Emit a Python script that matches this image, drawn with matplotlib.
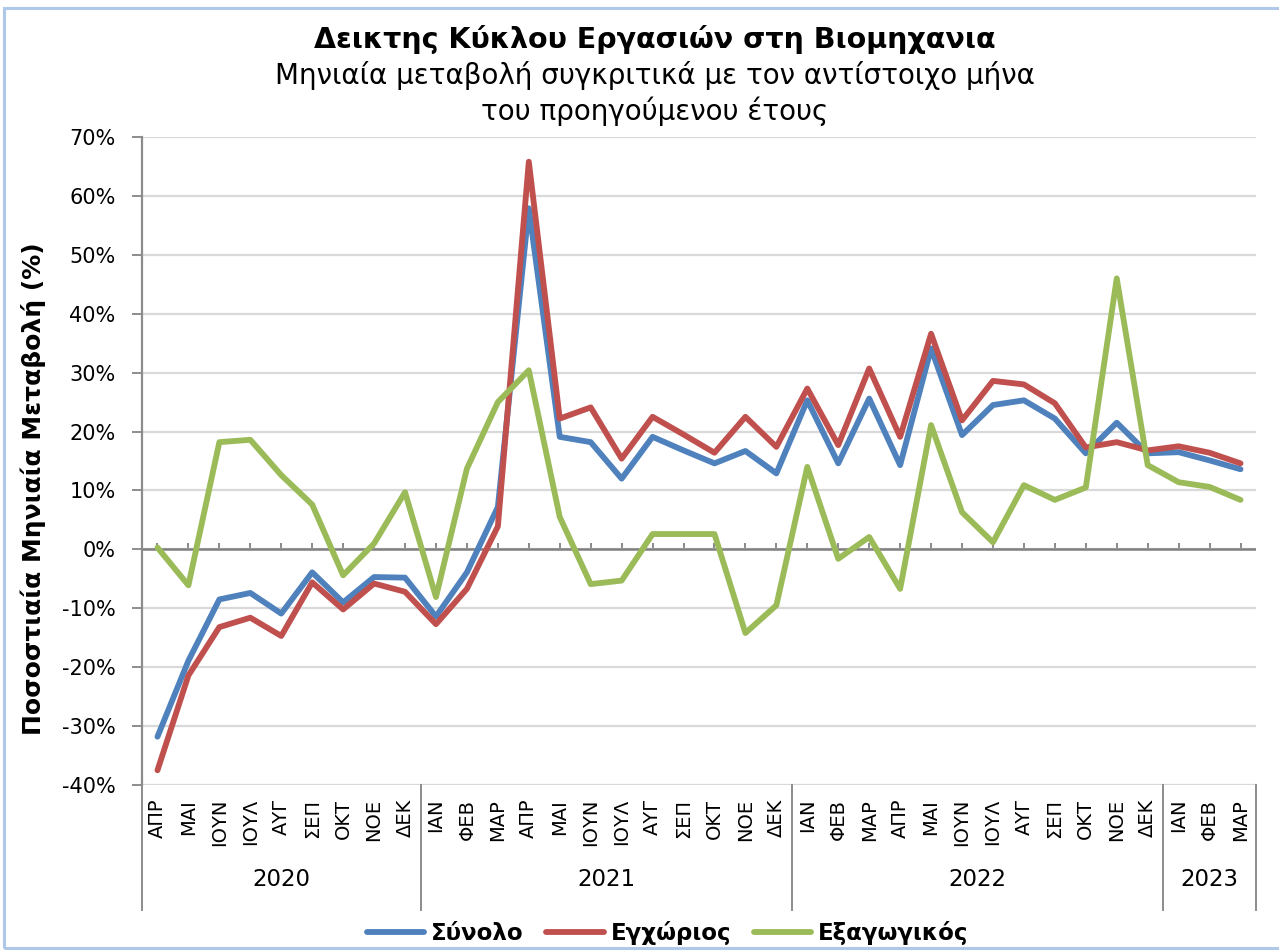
import matplotlib
matplotlib.use("Agg")
import matplotlib.pyplot as plt
import matplotlib.transforms as mtransforms
from matplotlib.patches import Rectangle
import numpy as np

plt.rcParams['font.family'] = ['DejaVu Sans']

months = ["ΑΠΡ", "ΜΑΙ", "ΙΟΥΝ", "ΙΟΥΛ", "ΑΥΓ", "ΣΕΠ", "ΟΚΤ", "ΝΟΕ", "ΔΕΚ",
          "ΙΑΝ", "ΦΕΒ", "ΜΑΡ", "ΑΠΡ", "ΜΑΙ", "ΙΟΥΝ", "ΙΟΥΛ", "ΑΥΓ", "ΣΕΠ", "ΟΚΤ", "ΝΟΕ", "ΔΕΚ",
          "ΙΑΝ", "ΦΕΒ", "ΜΑΡ", "ΑΠΡ", "ΜΑΙ", "ΙΟΥΝ", "ΙΟΥΛ", "ΑΥΓ", "ΣΕΠ", "ΟΚΤ", "ΝΟΕ", "ΔΕΚ",
          "ΙΑΝ", "ΦΕΒ", "ΜΑΡ"]
years = ["2020", "2021", "2022", "2023"]
months_per_year = [9, 12, 12, 3]

synolo = [-31.8, -18.9, -8.5, -7.4, -10.9, -3.9, -9.0, -4.7, -4.8,
          -11.4, -3.9, 7.2, 57.9, 19.1, 18.2, 12.0, 19.1, 16.8, 14.6, 16.7, 12.9,
          25.3, 14.6, 25.6, 14.3, 34.1, 19.4, 24.5, 25.3, 22.2, 16.3, 21.5, 16.3,
          16.5, 15.1, 13.6]
egxorios = [-37.5, -21.4, -13.2, -11.6, -14.7, -5.6, -10.2, -5.8, -7.2,
            -12.7, -6.7, 3.9, 65.8, 22.2, 24.1, 15.4, 22.5, 19.5, 16.4, 22.5, 17.4,
            27.3, 17.7, 30.7, 19.1, 36.6, 21.9, 28.6, 28.0, 24.8, 17.3, 18.2, 16.8,
            17.5, 16.4, 14.6]
exagogikos = [0.3, -6.1, 18.2, 18.6, 12.6, 7.6, -4.4, 1.0, 9.7,
              -8.1, 13.7, 25.0, 30.4, 5.5, -5.9, -5.3, 2.6, 2.6, 2.6, -14.2, -9.5,
              14.0, -1.6, 2.1, -6.7, 21.1, 6.3, 1.2, 10.9, 8.4, 10.5, 46.0, 14.3,
              11.4, 10.6, 8.4]

series_names = ["Σύνολο", "Εγχώριος", "Εξαγωγικός"]
colors = ["#4F81BD", "#C0504D", "#9BBB59"]

W, H = 1279, 951
fig = plt.figure(figsize=(W / 100, H / 100), dpi=100)

# light blue chart border
fig.patches.append(Rectangle((4 / W, 3 / H), (W + 10) / W, (H - 11) / H,
                             transform=fig.transFigure, fill=False,
                             edgecolor="#AFC8EA", linewidth=2.2))

L, R, T, B = 142, 1256, 137, 785
ax = fig.add_axes([L / W, 1 - B / H, (R - L) / W, (B - T) / H])

x = np.arange(len(months))
lines = []
for vals, c, name in zip([synolo, egxorios, exagogikos], colors, series_names):
    ln, = ax.plot(x, vals, color=c, lw=4.2, label=name, zorder=3,
                  solid_joinstyle='round', solid_capstyle='round')
    lines.append(ln)

ax.set_xlim(-0.5, len(months) - 0.5)
ax.set_ylim(-40, 70)
ax.set_yticks(np.arange(-40, 71, 10))
ax.set_yticklabels([f"{v}%" for v in range(-40, 71, 10)], fontsize=15, color="#000000")
ax.yaxis.grid(True, color="#D9D9D9", lw=1.6, zorder=0)
ax.set_axisbelow(True)
for s in ["top", "right", "bottom"]:
    ax.spines[s].set_visible(False)
ax.spines["left"].set_color("#8C8C8C")
ax.spines["left"].set_linewidth(1.6)
ax.tick_params(axis="y", length=7, width=1.4, color="#8C8C8C", pad=12)

# month labels at bottom
ax.set_xticks(x)
ax.set_xticklabels(months, rotation=90, fontsize=14, va="top", ha="center")
ax.tick_params(axis="x", length=0, pad=10)

# zero axis with small upward ticks
ax.axhline(0, color="#808080", lw=1.8, zorder=2)
sec = ax.secondary_xaxis(40 / 110)
sec.set_xticks(x)
sec.set_xticklabels([])
sec.spines["bottom"].set_visible(False)
sec.tick_params(axis="x", direction="in", length=4, width=1.3, color="#808080")

# year groups
trans = mtransforms.blended_transform_factory(ax.transData, ax.transAxes)
ybot = -(910 - B) / (B - T)
edges = np.concatenate([[0], np.cumsum(months_per_year)]) - 0.5
for e in edges:
    ax.plot([e, e], [0, ybot], transform=trans, color="#8C8C8C", lw=1.4, clip_on=False)
yyear = -(880 - B) / (B - T)
for i, yr in enumerate(years):
    xc = (edges[i] + edges[i + 1]) / 2
    ax.text(xc, yyear, yr, transform=trans, ha="center", va="center", fontsize=16.5)

ax.set_ylabel("Ποσοστιαία Μηνιαία Μεταβολή (%)", fontsize=18, fontweight="bold")
ax.yaxis.set_label_coords(-(L - 46) / (R - L), (B - 489) / (B - T))

fig.text(0.512, 1 - 40 / H, "Δεικτης Κύκλου Εργασιών στη Βιομηχανια",
         ha="center", va="center", fontsize=20.5, fontweight="bold")
fig.text(0.512, 1 - 76 / H, "Μηνιαία μεταβολή συγκριτικά με τον αντίστοιχο μήνα",
         ha="center", va="center", fontsize=20)
fig.text(0.512, 1 - 111 / H, "του προηγούμενου έτους",
         ha="center", va="center", fontsize=20)

fig.legend(handles=lines, loc="center", bbox_to_anchor=(0.522, 1 - 933 / H), ncol=3,
           frameon=False, prop={"weight": "bold", "size": 16.5},
           handlelength=2.5, handletextpad=0.3, columnspacing=1.0)

fig.savefig("out.png", dpi=100)
